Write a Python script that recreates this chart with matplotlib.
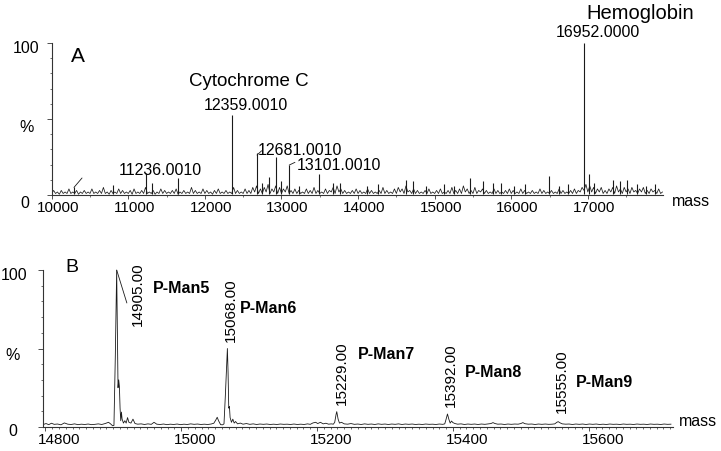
import numpy as np
import matplotlib
matplotlib.use('Agg')
import matplotlib.pyplot as plt
from matplotlib.ticker import MultipleLocator, FixedLocator
from matplotlib.transforms import ScaledTranslation

plt.rcParams['font.family'] = ['Liberation Sans', 'DejaVu Sans']

# ---- panel A: ESI deconvoluted spectrum, 10000-18000 Da ----
# baseline noise, one value every 25 Da starting at 10000 (% intensity)
top_noise = [
    1, 3, 1, 2, 0.5, 3, 1, 2, 1, 4, 1, 2, 1, 3, 0.5, 2, 1, 3, 1, 2,
    1, 4, 1, 2, 1, 3, 1, 5, 1, 2, 0.5, 3, 1, 2, 1, 4, 1, 3, 1, 2,
    1, 3, 0.5, 4, 1, 2, 1, 3, 1, 5, 1, 2, 1, 3, 0.5, 2, 1, 4, 1, 3,
    1, 2, 1, 3, 1, 4, 0.5, 2, 1, 3, 1, 2, 1, 5, 1, 3, 1, 2, 1, 4,
    1, 3, 1, 2, 0.5, 3, 1, 4, 1, 2, 1, 3, 1, 2, 1, 5, 1, 3, 1, 2,
    1, 4, 1, 3, 1, 5, 2, 6, 1, 4, 1, 5, 2, 7, 1, 4, 2, 6, 1, 5,
    1, 4, 2, 6, 1, 3, 1, 4, 1, 3, 1, 2, 1, 4, 1, 3, 1, 5, 1, 3,
    1, 2, 1, 4, 1, 3, 2, 5, 1, 6, 2, 4, 1, 3, 1, 2, 1, 3, 1, 4,
    1, 3, 1, 2, 1, 4, 1, 3, 1, 2, 1, 3, 1, 5, 1, 3, 1, 2, 1, 4,
    1, 5, 2, 4, 1, 6, 2, 3, 1, 4, 1, 3, 1, 2, 1, 3, 1, 4, 1, 2,
    1, 3, 1, 4, 1, 2, 1, 3, 1, 5, 1, 3, 1, 4, 1, 6, 2, 4, 1, 3,
    1, 5, 1, 3, 2, 4, 1, 3, 1, 2, 1, 4, 1, 3, 1, 2, 1, 3, 1, 4,
    1, 3, 1, 2, 1, 4, 1, 3, 1, 2, 1, 3, 1, 2, 1, 4, 1, 3, 1, 2,
    1, 3, 1, 2, 1, 4, 1, 3, 1, 2, 1, 3, 1, 4, 1, 3, 2, 5, 3, 7,
    2, 6, 2, 5, 1, 4, 2, 5, 1, 3, 1, 4, 2, 5, 1, 6, 2, 4, 1, 5,
    2, 4, 1, 5, 2, 3, 1, 4, 2, 5, 1, 3, 1, 4, 2, 3, 1, 4, 1, 2,
]
top_peak_mass = [10291, 10800, 11236, 11309, 11649, 12359, 12681, 12838, 12928,
                 13101, 13490, 13672, 13763, 14621, 14717, 15461, 15631, 15761,
                 16492, 16952, 17015, 17328, 17511,
                 12740, 12990, 13230, 14120, 14260, 14890, 15120, 15250, 15870,
                 16040, 16180, 16620, 16740, 17080, 17420, 17640, 17760, 17880]
top_peak_int = [5, 6.6, 14.5, 7.7, 11, 52.6, 27.6, 12, 25,
                19.7, 14, 7.7, 8, 10, 9, 11, 9, 8,
                12.5, 100, 14, 10, 10,
                8, 9, 6, 6, 7, 6, 7, 6, 8,
                6, 7, 6, 7, 8, 9, 7, 6, 7]

# ---- panel B: zoom on the P-Man glycoforms ----
bottom_trace = [
    (14797, 1.6), (14801, 2.2), (14805, 1.5), (14809, 2.4), (14813, 1.7), (14818, 1.9),
    (14823, 1.4), (14828, 2.6), (14833, 1.8), (14838, 1.6), (14843, 2.0), (14848, 1.5),
    (14853, 1.8), (14858, 1.6), (14863, 1.9), (14868, 1.5), (14873, 1.7), (14878, 2.0),
    (14883, 1.6), (14888, 2.2), (14893, 3.0), (14896, 2.0), (14899, 0.8), (14901, 1.0),
    (14903, 45), (14905, 100), (14906, 60), (14907, 25), (14908, 30), (14909, 26),
    (14910, 12), (14911, 4), (14912, 9.5), (14913, 5), (14915, 2.5), (14917, 4),
    (14919, 2.5), (14921, 6), (14923, 3), (14926, 2.5), (14929, 5), (14932, 2.2),
    (14936, 1.8), (14941, 2.0), (14946, 1.6), (14951, 2.0), (14956, 1.7), (14960, 3.0),
    (14964, 1.8), (14969, 1.6), (14974, 1.9), (14979, 1.5), (14984, 1.8), (14989, 1.6),
    (14994, 1.9), (14999, 1.5), (15004, 1.8), (15009, 1.6), (15014, 2.0), (15019, 1.7),
    (15024, 1.9), (15029, 1.6), (15034, 1.8), (15039, 1.6), (15044, 1.9), (15048, 2.4),
    (15051, 4.5), (15053, 6.2), (15055, 4), (15058, 1.5), (15061, 1.4), (15063, 2),
    (15065, 20), (15068, 50), (15069, 35), (15070, 12), (15071, 13), (15072, 6),
    (15074, 3), (15076, 5), (15078, 2.5), (15080, 3.5), (15083, 2), (15087, 2.5),
    (15091, 1.8), (15096, 2.2), (15101, 1.7), (15106, 2.0), (15111, 1.6), (15116, 1.9),
    (15121, 1.7), (15126, 1.9), (15131, 1.6), (15136, 1.8), (15141, 1.6), (15146, 1.9),
    (15151, 1.7), (15156, 1.8), (15161, 1.6), (15166, 1.9), (15171, 1.6), (15176, 1.8),
    (15181, 1.6), (15186, 2.0), (15190, 1.7), (15194, 2.6), (15198, 3.0), (15201, 2.2),
    (15205, 3.0), (15209, 2.0), (15213, 2.4), (15217, 1.8), (15221, 2.0), (15224, 1.8),
    (15226, 3), (15228, 8), (15229, 9.8), (15231, 5), (15233, 2.5), (15236, 3),
    (15240, 2.0), (15245, 1.8), (15250, 2.2), (15255, 1.7), (15260, 1.9), (15265, 1.6),
    (15270, 2.0), (15275, 1.7), (15280, 1.9), (15285, 1.6), (15290, 2.0), (15295, 1.7),
    (15300, 1.9), (15305, 1.6), (15310, 1.9), (15315, 1.7), (15320, 2.0), (15325, 1.6),
    (15330, 1.9), (15335, 1.7), (15340, 1.9), (15345, 1.6), (15350, 1.8), (15355, 1.6),
    (15360, 1.9), (15365, 1.7), (15370, 1.8), (15375, 1.6), (15380, 1.9), (15385, 1.7),
    (15388, 2), (15390, 5), (15392, 8.3), (15394, 5), (15396, 2.5), (15398, 3.8),
    (15400, 2.8), (15403, 2.2), (15407, 1.8), (15412, 2.0), (15417, 1.6), (15422, 1.9),
    (15427, 1.7), (15432, 1.9), (15437, 1.6), (15442, 1.9), (15447, 1.7), (15452, 2.0),
    (15456, 2.2), (15459, 2.8), (15462, 2.2), (15466, 1.8), (15471, 1.9), (15476, 1.6),
    (15481, 1.9), (15486, 1.7), (15491, 1.9), (15496, 1.8), (15500, 2.2), (15503, 2.8),
    (15506, 2.1), (15511, 1.8), (15516, 1.9), (15521, 1.6), (15526, 1.9), (15531, 1.7),
    (15536, 1.9), (15541, 1.7), (15546, 1.8), (15550, 2.0), (15553, 3.0), (15555, 3.4),
    (15558, 2.6), (15561, 2.0), (15566, 1.8), (15571, 1.9), (15576, 1.6), (15581, 1.9),
    (15586, 1.7), (15591, 1.9), (15596, 1.6), (15601, 1.9), (15606, 1.7), (15611, 1.9),
    (15616, 1.6), (15621, 1.8), (15626, 1.6), (15631, 1.9), (15636, 1.7), (15641, 1.8),
    (15646, 1.6), (15651, 1.9), (15656, 1.7), (15661, 1.8), (15666, 1.6), (15671, 1.9),
    (15676, 1.7), (15681, 1.8), (15686, 1.6), (15691, 1.9), (15696, 1.7), (15701, 1.8),
    (15706, 1.6), (15711, 1.9), (15716, 1.7), (15721, 1.8),
]
glyco_names = ['P-Man5', 'P-Man6', 'P-Man7', 'P-Man8', 'P-Man9']
glyco_labels = ['14905.00', '15068.00', '15229.00', '15392.00', '15555.00']

INK = '#1a1a1a'

fig = plt.figure(figsize=(7.21, 4.51), dpi=100)
axA = fig.add_axes([0.0717, 0.5676, 0.8474, 0.3370])
axB = fig.add_axes([0.0596, 0.0532, 0.8738, 0.3481])


def style(ax, xlim, majors, minor, shift_pt, ylab_pos, mass_off):
    ax.set_xlim(*xlim)
    ax.set_ylim(0, 100)
    for s in ['top', 'right']:
        ax.spines[s].set_visible(False)
    for s in ['left', 'bottom']:
        ax.spines[s].set_linewidth(0.8)
        ax.spines[s].set_color('#333333')
    ax.xaxis.set_major_locator(FixedLocator(majors))
    ax.xaxis.set_minor_locator(MultipleLocator(minor))
    ax.yaxis.set_major_locator(FixedLocator([0, 50, 100]))
    ax.yaxis.set_minor_locator(MultipleLocator(10))
    ax.set_xticklabels([str(m) for m in majors])
    ax.tick_params(axis='x', which='major', length=3, width=0.6, pad=1.5,
                   labelsize=11, colors='#333333', labelcolor='black')
    ax.tick_params(axis='x', which='minor', length=1.6, width=0.5, colors='#333333')
    ax.tick_params(axis='y', which='major', length=3.6, width=0.6,
                   labelleft=False, colors='#333333')
    ax.tick_params(axis='y', which='minor', length=1.8, width=0.5, colors='#333333')
    shift = ScaledTranslation(shift_pt / 72, 0, fig.dpi_scale_trans)
    for lab in ax.get_xticklabels():
        lab.set_transform(lab.get_transform() + shift)
    ytr = ax.get_yaxis_transform()
    for txt, yv, dx, dy, ha in ylab_pos:
        ax.annotate(txt, xy=(0, yv), xycoords=ytr, xytext=(dx, dy),
                    textcoords='offset points', ha=ha, va='center', fontsize=11.5)
    ax.annotate('mass', xy=(1, 0), xycoords='axes fraction', xytext=mass_off,
                textcoords='offset points', ha='left', va='center', fontsize=11.5)


# panel A
noise_mass = 10000 + 25 * np.arange(len(top_noise))
axA.plot(noise_mass, top_noise, color=INK, lw=0.55)
axA.vlines(top_peak_mass, 0.8, top_peak_int, color=INK, lw=0.8)
style(axA, (10000, 17977), list(range(10000, 18000, 1000)), 500, 4.3,
      [('100', 100, -9.1, -3.6, 'right'), ('%', 50, -17.8, -5.8, 'center'),
       ('0', 0, -19.2, -5.8, 'center')], (6.7, -5))

line = dict(arrowstyle='-', lw=0.6, color=INK, shrinkA=0, shrinkB=0)
axA.annotate('', xy=(10291, 5), xytext=(10396, 11.2), arrowprops=line)
axA.annotate('', xy=(12681, 26.3), xytext=(12741, 29.1), arrowprops=line)
axA.annotate('', xy=(13101, 19.7), xytext=(13176, 21.5), arrowprops=line)
axA.text(10252, 91.4, 'A', fontsize=15, ha='left', va='center')
axA.text(11414, 16.4, '11236.0010', fontsize=11.5, ha='center', va='center')
axA.text(12573, 75, 'Cytochrome C', fontsize=13.5, ha='center', va='center')
axA.text(12537, 59.2, '12359.0010', fontsize=11.5, ha='center', va='center')
axA.text(12693, 29.6, '12681.0010', fontsize=11.5, ha='left', va='center')
axA.text(13202, 19.1, '13101.0010', fontsize=11.5, ha='left', va='center')
axA.text(17132, 106.6, '16952.0000', fontsize=11.5, ha='center', va='center')
axA.text(17680, 119.7, 'Hemoglobin', fontsize=14.5, ha='center', va='center')

# panel B
b_mass = [p[0] for p in bottom_trace]
b_int = [p[1] for p in bottom_trace]
axB.plot(b_mass, b_int, color=INK, lw=0.6)
style(axB, (14796.5, 15724), list(range(14800, 15700, 200)), 10, 10,
      [('100', 100, -11.5, -4.3, 'right'), ('%', 50, -21.6, -4.7, 'center'),
       ('0', 0, -22, -3.4, 'center')], (4.3, 3.8))

axB.annotate('', xy=(14905, 100), xytext=(14920, 79), arrowprops=line)
axB.text(14829, 101.9, 'B', fontsize=14, ha='left', va='center')
num_pos = [(14936, 84.7), (15073, 74.5), (15236, 34.5), (15397, 33.3), (15560, 29)]
name_pos = [(14958.5, 88.5), (15087, 75.8), (15260, 45.9), (15418, 35), (15581, 28.2)]
for lab, name, (nx, ny), (mx, my) in zip(glyco_labels, glyco_names, num_pos, name_pos):
    axB.text(nx, ny, lab, rotation=90, fontsize=11, ha='center', va='center')
    axB.text(mx, my, name, fontsize=11.5, fontweight='bold', ha='left', va='center')

fig.savefig('out.png', dpi=100)
